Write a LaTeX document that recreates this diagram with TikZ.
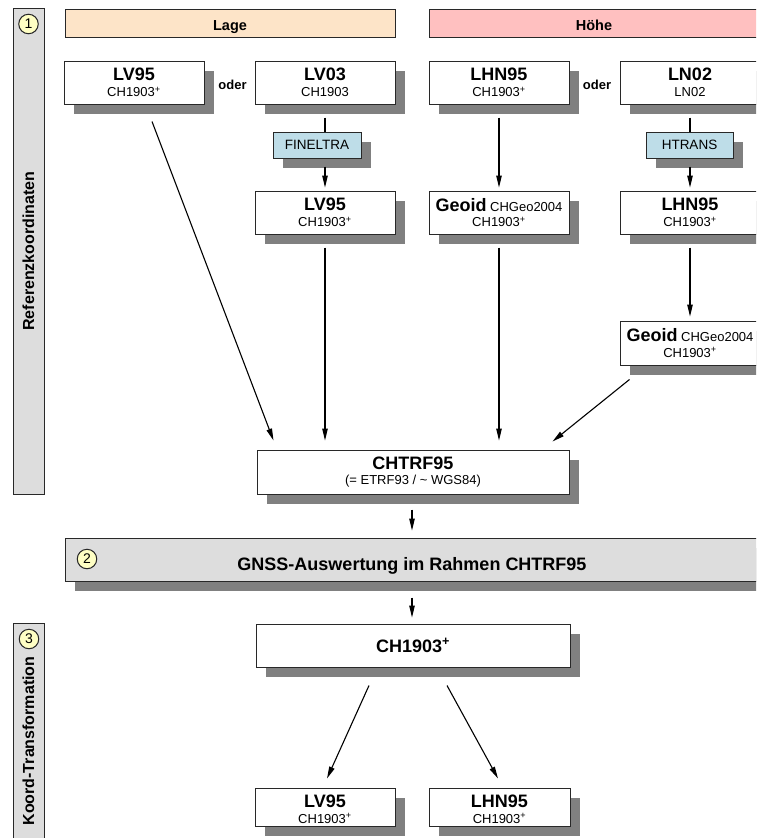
\documentclass[tikz,border=0pt]{standalone}
\usepackage{fontspec}
\setmainfont{Liberation Sans}
\usetikzlibrary{shadows,arrows.meta,calc}
\definecolor{peach}{RGB}{253,228,200}
\definecolor{pinkbar}{RGB}{255,192,192}
\definecolor{bargray}{RGB}{221,221,221}
\definecolor{shade}{RGB}{128,128,128}
\definecolor{toolblue}{RGB}{190,221,232}
\definecolor{numyellow}{RGB}{255,255,196}
\definecolor{edge}{RGB}{40,40,40}
\newcommand{\ttl}{\fontsize{18}{13.5}\selectfont\bfseries}
\newcommand{\subt}{\fontsize{13}{13.5}\selectfont}
\newcommand{\chp}{CH1903\textsuperscript{+}}
\begin{document}
\begin{tikzpicture}[x=1pt,y=-1pt,
  shd/.style={drop shadow={shadow xshift=9.5pt,shadow yshift=-9.5pt,fill=shade,opacity=1}},
  frame/.style={draw=edge,line width=1pt,inner sep=0pt,align=center},
  box/.style={frame,fill=white,shd,minimum width=140pt,minimum height=43pt,font=\fontsize{13}{13.5}\selectfont},
  tool/.style={frame,fill=toolblue,shd,minimum height=26pt,font=\fontsize{13.5}{14}\selectfont},
  head/.style={frame,minimum width=330pt,minimum height=28pt,text height=14pt,text depth=0pt,font=\fontsize{14.5}{16}\selectfont\bfseries},
  sidebar/.style={frame,fill=bargray,rotate=90,minimum height=31pt,font=\fontsize{16}{18}\selectfont\bfseries},
  numc/.style={circle,draw=edge,line width=1pt,fill=numyellow,minimum size=19.5pt,inner sep=0pt,font=\fontsize{14}{15}\selectfont},
  oderlbl/.style={font=\fontsize{13}{14}\selectfont\bfseries},
  arr/.style={draw=black,line width=1.1pt,-{Triangle[length=12pt,width=5.5pt]}},
  ln/.style={draw=black,line width=1.1pt}]
\useasboundingbox (0,0) rectangle (756,838);
\clip (0,0) rectangle (756,838);

% side bars
\node[sidebar,minimum width=486pt] (bar1) at (28.5,251) {Referenzkoordinaten};
\node[sidebar,minimum width=236pt] (bar3) at (28.5,741) {Koord-Transformation};
\node[numc] (n1) at (28.5,24) {1};
\node[numc] (n3) at (29,639) {3};

% headers
\node[head,fill=peach] (lage) at (230,23) {Lage};
\node[head,fill=pinkbar] (hoehe) at (594,23) {Höhe};

% first row
\node[box] (lv95a) at (134,82.5) {{\ttl LV95}\\[2pt]{\subt \chp}};
\node[box] (lv03) at (325,82.5) {{\ttl LV03}\\[2pt]{\subt CH1903}};
\node[box] (lhn95a) at (499,82.5) {{\ttl LHN95}\\[2pt]{\subt \chp}};
\node[box] (ln02) at (690,82.5) {{\ttl LN02}\\[2pt]{\subt LN02}};
\node[oderlbl] (oder1) at (232.5,85) {oder};
\node[oderlbl] (oder2) at (597,85) {oder};

% tools
\node[tool,minimum width=88pt] (fineltra) at (317,145) {FINELTRA};
\node[tool,minimum width=87pt] (htrans) at (689.5,145) {HTRANS};

% second row
\node[box] (lv95b) at (325,212.5) {{\ttl LV95}\\[2pt]{\subt \chp}};
\node[box] (geoid) at (499,212.5) {{\ttl Geoid} {\subt CHGeo2004}\\[2pt]{\subt \chp}};
\node[box] (lhn95b) at (690,212.5) {{\ttl LHN95}\\[2pt]{\subt \chp}};
\node[box,minimum height=44pt] (geoid2) at (690,343) {{\ttl Geoid} {\subt CHGeo2004}\\[2pt]{\subt \chp}};

% CHTRF95
\node[box,minimum width=312pt,minimum height=44pt] (chtrf) at (413,472)
  {{\ttl CHTRF95}\\[2pt]{\fontsize{13}{13.5}\selectfont (= ETRF93 / \textasciitilde{} WGS84)}};

% band 2
\node[frame,fill=bargray,shd,minimum width=694pt,minimum height=43pt] (band2) at (412,559.5) {};
\node[anchor=base,font=\fontsize{18}{20}\selectfont\bfseries] (band2t) at (412,570) {GNSS-Auswertung im Rahmen CHTRF95};
\node[numc] (n2) at (87,559) {2};

% CH1903+
\node[box,minimum width=314pt,minimum height=43pt] (ch) at (413,645.5) {{\fontsize{18}{20}\selectfont\bfseries \chp}};

% bottom row
\node[box,minimum height=38pt] (lv95c) at (325,807) {{\ttl\rule{0pt}{17pt}LV95}\\[2pt]{\subt \chp}};
\node[box,minimum width=141pt,minimum height=38pt] (lhn95c) at (499.5,807) {{\ttl\rule{0pt}{17pt}LHN95}\\[2pt]{\subt \chp}};

% connectors
\draw[arr] ($(lv95a.south)+(18,17)$) -- ($(chtrf.north west)+(17,-9)$);
\draw[ln] ($(lv03.south)+(0,13)$) -- ($(fineltra.north)+(8,0)$);
\draw[arr] ($(fineltra.south)+(8,8)$) -- ($(lv95b.north)+(0,-3)$);
\draw[arr] ($(lv95b.south)+(0,13)$) -- ($(lv95b.south |- chtrf.north)+(0,-9)$);
\draw[arr] ($(lhn95a.south)+(0,13)$) -- ($(geoid.north)+(0,-3)$);
\draw[arr] ($(geoid.south)+(0,13)$) -- ($(geoid.south |- chtrf.north)+(0,-9)$);
\draw[ln] ($(ln02.south)+(0,13)$) -- ($(htrans.north)+(0.5,0)$);
\draw[arr] ($(htrans.south)+(0.5,8)$) -- ($(lhn95b.north)+(0,-3)$);
\draw[arr] ($(lhn95b.south)+(0,13)$) -- ($(geoid2.north)+(0,-4)$);
\draw[arr] ($(geoid2.south west)+(10,14)$) -- ($(chtrf.north east)+(-17,-8)$);
\draw[arr] ($(chtrf.south)+(-1,15)$) -- ($(band2.north)+(0,-7)$);
\draw[arr] ($(band2.south)+(0,16)$) -- ($(ch.north)+(-1,-6)$);
\draw[arr] ($(ch.south)+(-44,18)$) -- ($(lv95c.north)+(2,-9)$);
\draw[arr] ($(ch.south)+(34,18)$) -- ($(lhn95c.north)+(-1.5,-9)$);
\end{tikzpicture}
\end{document}
